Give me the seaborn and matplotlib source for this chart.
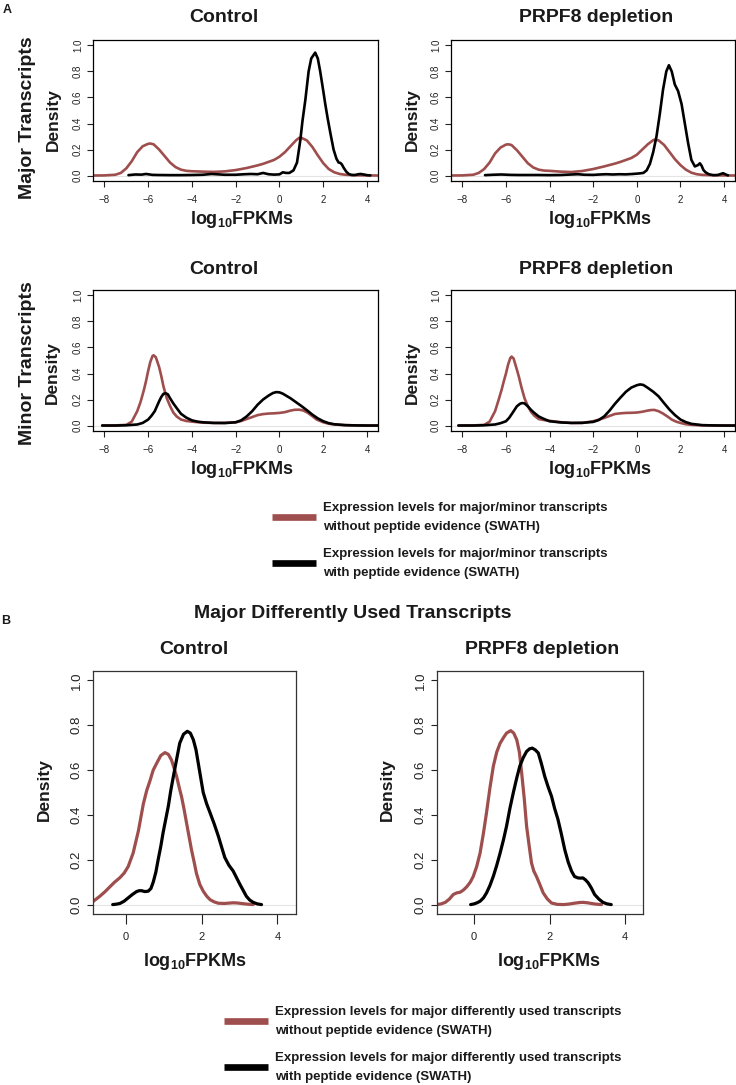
import numpy as np
import pandas as pd
import matplotlib
matplotlib.use("Agg")
import matplotlib.pyplot as plt
from matplotlib.lines import Line2D
import seaborn as sns

# ---------------- data ----------------
# Panel A, major transcripts, Control
a1_red_x = [-8.6,-8,-7.5,-7.25,-7,-6.75,-6.5,-6.25,-6.0,-5.9,-5.75,-5.5,-5.25,-5,-4.75,-4.5,-4.25,-4,-3.5,-3,-2.5,-2,-1.5,-1,-0.75,-0.5,-0.25,0,0.25,0.5,0.75,0.9,1.0,1.25,1.5,1.75,2,2.25,2.5,2.75,3,3.5,4,4.6]
a1_red_y = [0,0.001,0.006,0.02,0.055,0.11,0.18,0.225,0.244,0.246,0.24,0.2,0.15,0.1,0.065,0.045,0.036,0.033,0.03,0.028,0.032,0.042,0.058,0.078,0.09,0.105,0.12,0.145,0.18,0.225,0.27,0.29,0.29,0.27,0.22,0.155,0.095,0.05,0.025,0.012,0.006,0.002,0.001,0]
a1_blk_x = [-6.9,-6.6,-6.3,-6.1,-5.8,-5.5,-5,-4.5,-4,-3.5,-3.1,-2.8,-2.5,-2,-1.6,-1.3,-1.0,-0.75,-0.5,-0.25,0,0.15,0.3,0.45,0.64,0.8,0.95,1.05,1.18,1.33,1.45,1.63,1.75,1.86,2.0,2.09,2.2,2.32,2.47,2.6,2.7,2.78,2.85,2.93,3.05,3.16,3.3,3.45,3.6,3.7,3.85,4.0,4.15]
a1_blk_y = [0.003,0.008,0.007,0.012,0.005,0.004,0.003,0.003,0.004,0.006,0.012,0.009,0.006,0.006,0.01,0.012,0.01,0.02,0.01,0.007,0.009,0.025,0.02,0.02,0.04,0.1,0.27,0.42,0.58,0.8,0.9,0.945,0.9,0.8,0.65,0.55,0.44,0.33,0.2,0.13,0.1,0.097,0.085,0.06,0.03,0.012,0.004,0.004,0.01,0.012,0.008,0.003,0.001]

# Panel A, major transcripts, PRPF8 depletion
a2_red_x = [-8.6,-8,-7.5,-7.25,-7,-6.75,-6.5,-6.25,-6.0,-5.9,-5.75,-5.5,-5.25,-5,-4.75,-4.5,-4.25,-4,-3.5,-3,-2.5,-2,-1.5,-1,-0.75,-0.5,-0.25,0,0.25,0.5,0.75,0.85,1.0,1.25,1.5,1.75,2,2.25,2.5,2.75,3,3.5,4,4.6]
a2_red_y = [0,0.001,0.006,0.02,0.05,0.1,0.17,0.215,0.238,0.24,0.235,0.195,0.145,0.095,0.062,0.045,0.038,0.036,0.03,0.027,0.035,0.05,0.07,0.092,0.105,0.12,0.135,0.16,0.2,0.24,0.272,0.277,0.27,0.235,0.18,0.125,0.08,0.045,0.022,0.01,0.005,0.002,0.001,0]
a2_blk_x = [-6.96,-6.6,-6.2,-5.8,-5.4,-5,-4.5,-4,-3.5,-3,-2.7,-2.4,-2,-1.7,-1.4,-1.1,-0.8,-0.5,-0.2,0.1,0.3,0.45,0.6,0.75,0.9,1.05,1.2,1.35,1.47,1.6,1.74,1.89,2.05,2.2,2.35,2.5,2.66,2.8,2.89,2.97,3.05,3.15,3.3,3.5,3.7,3.85,3.95,4.05,4.18]
a2_blk_y = [0.003,0.006,0.008,0.005,0.004,0.004,0.004,0.003,0.004,0.008,0.01,0.006,0.005,0.008,0.01,0.008,0.01,0.009,0.012,0.016,0.02,0.04,0.09,0.18,0.3,0.47,0.66,0.8,0.848,0.8,0.7,0.65,0.55,0.4,0.25,0.12,0.07,0.08,0.094,0.075,0.043,0.025,0.01,0.003,0.004,0.012,0.018,0.01,0.001]

# Panel A, minor transcripts, Control
a3_red_x = [-8.1,-7.5,-7,-6.75,-6.5,-6.35,-6.2,-6.1,-6,-5.9,-5.8,-5.75,-5.65,-5.5,-5.4,-5.3,-5.15,-5,-4.85,-4.7,-4.5,-4.25,-4,-3.5,-3,-2.5,-2,-1.75,-1.5,-1.25,-1,-0.75,-0.5,-0.25,0,0.25,0.5,0.7,0.9,1.1,1.3,1.5,1.7,2,2.25,2.5,3,3.5,4,4.6]
a3_red_y = [0,0.001,0.005,0.03,0.11,0.18,0.27,0.34,0.42,0.49,0.535,0.54,0.525,0.45,0.38,0.3,0.21,0.15,0.1,0.07,0.046,0.035,0.03,0.022,0.02,0.021,0.025,0.035,0.05,0.065,0.08,0.088,0.092,0.094,0.097,0.103,0.115,0.121,0.122,0.115,0.097,0.072,0.046,0.025,0.014,0.008,0.003,0.001,0.0,0]
a3_blk_x = [-8.1,-7.5,-7,-6.5,-6.25,-6,-5.85,-5.7,-5.5,-5.4,-5.3,-5.2,-5.1,-5,-4.85,-4.7,-4.5,-4.25,-4,-3.75,-3.5,-3,-2.5,-2,-1.75,-1.5,-1.25,-1,-0.75,-0.5,-0.3,-0.15,0,0.15,0.3,0.5,0.7,0.85,1,1.25,1.5,1.75,2,2.25,2.5,3,3.5,4,4.6]
a3_blk_y = [0,0.0,0.002,0.008,0.02,0.046,0.075,0.11,0.186,0.22,0.244,0.248,0.24,0.21,0.17,0.135,0.09,0.06,0.04,0.03,0.025,0.02,0.019,0.025,0.04,0.07,0.11,0.16,0.2,0.23,0.25,0.257,0.255,0.245,0.23,0.21,0.186,0.168,0.15,0.118,0.084,0.055,0.033,0.018,0.01,0.003,0.001,0,0]

# Panel A, minor transcripts, PRPF8 depletion
a4_red_x = [-8.18,-7.5,-7,-6.75,-6.5,-6.35,-6.2,-6.1,-6,-5.9,-5.8,-5.74,-5.65,-5.5,-5.4,-5.3,-5.15,-5,-4.85,-4.7,-4.5,-4.25,-4,-3.5,-3,-2.5,-2,-1.75,-1.5,-1.25,-1,-0.75,-0.5,-0.25,0,0.25,0.5,0.65,0.8,1,1.2,1.4,1.6,1.8,2,2.25,2.5,3,3.5,4,4.6]
a4_red_y = [0,0.001,0.005,0.03,0.11,0.19,0.275,0.34,0.4,0.47,0.52,0.53,0.515,0.43,0.37,0.3,0.21,0.15,0.105,0.076,0.05,0.042,0.036,0.026,0.02,0.02,0.033,0.045,0.058,0.074,0.089,0.094,0.097,0.098,0.1,0.106,0.115,0.119,0.12,0.11,0.092,0.07,0.046,0.03,0.02,0.01,0.005,0.001,0,0,0]
a4_blk_x = [-8.18,-7.5,-7,-6.5,-6.25,-6,-5.85,-5.7,-5.5,-5.35,-5.25,-5.15,-5,-4.85,-4.7,-4.5,-4.25,-4,-3.5,-3,-2.5,-2,-1.75,-1.5,-1.25,-1,-0.75,-0.5,-0.25,0,0.15,0.3,0.5,0.75,1,1.25,1.5,1.75,2,2.25,2.5,3,3.5,4,4.6]
a4_blk_y = [0,0,0.002,0.008,0.018,0.033,0.06,0.097,0.148,0.168,0.173,0.17,0.148,0.12,0.097,0.07,0.05,0.033,0.024,0.02,0.021,0.028,0.042,0.07,0.115,0.168,0.215,0.26,0.292,0.31,0.316,0.312,0.29,0.26,0.224,0.172,0.122,0.08,0.046,0.026,0.013,0.003,0.001,0,0]

# Panel B, major differently used transcripts, Control
b1_red_x = [-0.95,-0.86,-0.69,-0.55,-0.42,-0.3,-0.16,-0.05,0.06,0.19,0.33,0.46,0.55,0.63,0.72,0.81,0.92,1.03,1.12,1.2,1.27,1.34,1.41,1.47,1.54,1.6,1.67,1.73,1.8,1.86,1.95,2.04,2.13,2.22,2.33,2.44,2.6,2.75,2.83,2.95,3.09,3.2,3.36]
b1_red_y = [0.005,0.015,0.037,0.058,0.08,0.1,0.12,0.14,0.17,0.23,0.33,0.45,0.51,0.55,0.6,0.63,0.665,0.678,0.67,0.646,0.61,0.57,0.52,0.48,0.42,0.364,0.3,0.245,0.19,0.14,0.09,0.06,0.038,0.022,0.012,0.006,0.005,0.007,0.008,0.007,0.004,0.002,0.0]
b1_blk_x = [-0.35,-0.25,-0.16,-0.05,0.06,0.17,0.28,0.35,0.41,0.5,0.59,0.66,0.72,0.79,0.85,0.92,0.98,1.05,1.12,1.18,1.25,1.34,1.42,1.52,1.62,1.7,1.78,1.85,1.91,1.98,2.04,2.13,2.22,2.33,2.44,2.52,2.61,2.72,2.83,2.92,3.01,3.1,3.18,3.27,3.36,3.47,3.58]
b1_blk_y = [0,0.002,0.005,0.015,0.03,0.045,0.058,0.062,0.062,0.058,0.06,0.072,0.1,0.145,0.2,0.26,0.32,0.38,0.44,0.505,0.57,0.65,0.72,0.76,0.773,0.765,0.735,0.69,0.63,0.56,0.5,0.45,0.41,0.36,0.305,0.26,0.21,0.175,0.15,0.12,0.09,0.062,0.037,0.02,0.01,0.003,0]

# Panel B, major differently used transcripts, PRPF8 depletion
b2_red_x = [-0.98,-0.87,-0.76,-0.65,-0.55,-0.46,-0.37,-0.28,-0.19,-0.1,-0.02,0.07,0.16,0.25,0.33,0.42,0.51,0.6,0.69,0.78,0.86,0.97,1.05,1.13,1.2,1.26,1.33,1.39,1.46,1.52,1.58,1.65,1.74,1.83,1.94,2.05,2.2,2.36,2.5,2.65,2.78,2.88,3.0,3.1,3.22,3.37]
b2_red_y = [0,0.003,0.01,0.025,0.045,0.052,0.055,0.065,0.08,0.1,0.126,0.17,0.23,0.32,0.41,0.52,0.617,0.68,0.72,0.745,0.765,0.776,0.765,0.735,0.68,0.587,0.47,0.35,0.26,0.186,0.15,0.126,0.09,0.052,0.025,0.007,0.001,0,0.002,0.006,0.009,0.01,0.008,0.005,0.002,0]
b2_blk_x = [-0.09,0.0,0.08,0.16,0.25,0.33,0.42,0.51,0.6,0.69,0.78,0.86,0.95,1.04,1.13,1.21,1.3,1.39,1.47,1.54,1.62,1.7,1.78,1.87,1.96,2.05,2.13,2.22,2.31,2.4,2.49,2.58,2.66,2.75,2.82,2.88,2.95,3.02,3.1,3.19,3.3,3.41,3.52,3.63]
b2_blk_y = [0,0.003,0.008,0.015,0.03,0.052,0.085,0.126,0.175,0.23,0.29,0.35,0.43,0.5,0.565,0.617,0.655,0.683,0.695,0.698,0.69,0.676,0.63,0.572,0.525,0.483,0.43,0.38,0.315,0.245,0.19,0.149,0.125,0.119,0.118,0.119,0.11,0.097,0.075,0.045,0.025,0.01,0.003,0]

a_xticks = [-8, -6, -4, -2, 0, 2, 4]
b_xticks = [0, 2, 4]
yticks = [0.0, 0.2, 0.4, 0.6, 0.8, 1.0]
titles = ["Control", "PRPF8 depletion"]
row_labels = ["Major Transcripts", "Minor Transcripts"]
section_title_b = "Major Differently Used Transcripts"
legend_a = ["Expression levels for major/minor transcripts\nwithout peptide evidence (SWATH)",
            "Expression levels for major/minor transcripts\nwith peptide evidence (SWATH)"]
legend_b = ["Expression levels for major differently used transcripts\nwithout peptide evidence (SWATH)",
            "Expression levels for major differently used transcripts\nwith peptide evidence (SWATH)"]

# ---------------- style ----------------
sns.set_style("white")
plt.rcParams['font.family'] = ['Liberation Sans', 'DejaVu Sans']
plt.rcParams['mathtext.fontset'] = 'custom'
plt.rcParams['mathtext.rm'] = 'Liberation Sans'
plt.rcParams['mathtext.bf'] = 'Liberation Sans:bold'
plt.rcParams['axes.unicode_minus'] = True

RED = '#9F4E4E'
BLK = '#000000'
palette = {"nopep": RED, "pep": BLK}

W, H = 736, 1085
fig = plt.figure(figsize=(W / 100, H / 100), dpi=100)


def px_axes(left, top, right, bottom):
    return fig.add_axes([left / W, 1 - bottom / H, (right - left) / W, (bottom - top) / H])


def make_df(rx, ry, bx, by):
    return pd.DataFrame({
        "x": list(rx) + list(bx),
        "y": list(ry) + list(by),
        "grp": ["nopep"] * len(rx) + ["pep"] * len(bx),
    })


def style_axes(ax, xticks, xlim, tick_fs_x, tick_fs_y, xtick_len, ytick_len, spine_col):
    ax.set_xlim(*xlim)
    ax.set_ylim(-0.042, 1.042)
    ax.set_xticks(xticks)
    ax.set_xticklabels([f"{t:d}".replace('-', '\u2212') for t in xticks])
    ax.set_yticks(yticks)
    ax.set_yticklabels([f"{t:.1f}" for t in yticks], rotation=90, va='center')
    ax.tick_params(axis='x', direction='out', length=xtick_len, width=0.8, labelsize=tick_fs_x,
                   pad=6, colors='#222222', bottom=True)
    ax.tick_params(axis='y', direction='out', length=ytick_len, width=0.8, labelsize=tick_fs_y,
                   pad=3, colors='#222222', left=True)
    for s in ax.spines.values():
        s.set_visible(True)
        s.set_color(spine_col)
        s.set_linewidth(0.9)
    ax.set_xlabel("")
    ax.set_ylabel("")
    ax.axhline(0, color='#e4e4e4', lw=0.8, zorder=0)


panels_a = [
    ((93, 40, 378, 181), (a1_red_x, a1_red_y, a1_blk_x, a1_blk_y)),
    ((451, 40, 735, 181), (a2_red_x, a2_red_y, a2_blk_x, a2_blk_y)),
    ((93, 290, 378, 431), (a3_red_x, a3_red_y, a3_blk_x, a3_blk_y)),
    ((451, 290, 735, 431), (a4_red_x, a4_red_y, a4_blk_x, a4_blk_y)),
]
for box, dat in panels_a:
    ax = px_axes(*box)
    df = make_df(*dat)
    sns.lineplot(data=df, x="x", y="y", hue="grp", palette=palette, sort=False,
                 estimator=None, legend=False, linewidth=1.9, ax=ax)
    style_axes(ax, a_xticks, (-8.52, 4.5), 7, 7, 4.3, 4.3, 'black')

panels_b = [
    ((93, 671, 296, 914), (b1_red_x, b1_red_y, b1_blk_x, b1_blk_y), (-0.87, 4.49)),
    ((437, 671, 643, 914), (b2_red_x, b2_red_y, b2_blk_x, b2_blk_y), (-0.98, 4.47)),
]
for box, dat, xl in panels_b:
    ax = px_axes(*box)
    df = make_df(*dat)
    sns.lineplot(data=df, x="x", y="y", hue="grp", palette=palette, sort=False,
                 estimator=None, legend=False, linewidth=2.3, ax=ax)
    style_axes(ax, b_xticks, xl, 8, 9.5, 7, 4.3, '#333333')

# ---------------- texts ----------------
bold = dict(fontweight='bold', color='#1a1a1a')
xlab = r'$\mathbf{log_{10}FPKMs}$'

def ft(x, y, s, **kw):
    fig.text(x / W, 1 - y / H, s, ha='center', va='center', **kw)

# titles
for (x, y, s) in [(224, 18, titles[0]), (596, 18, titles[1]),
                  (224, 269, titles[0]), (596, 269, titles[1]),
                  (194, 650, titles[0]), (542, 650, titles[1])]:
    ft(x, y, s, fontsize=14, **bold)
ft(353, 614, section_title_b, fontsize=14, **bold)

# x labels
for (x, y) in [(242, 220), (600, 220), (242, 469), (600, 469), (195, 961), (549, 961)]:
    ft(x, y, xlab, fontsize=13, color='#1a1a1a')

# y labels
for (x, y) in [(53, 120), (412, 120), (52, 373), (412, 373), (44, 790), (387, 790)]:
    ft(x, y, "Density", fontsize=12.5, rotation=90, **bold)

ft(28, 118, row_labels[0], fontsize=14, rotation=90, **bold)
ft(27, 363, row_labels[1], fontsize=14, rotation=90, **bold)

ft(7, 10, "A", fontsize=9, **bold)
ft(6, 621, "B", fontsize=9, **bold)

# ---------------- legends ----------------
handles = [Line2D([], [], color=RED, lw=4.8, solid_capstyle='butt'),
           Line2D([], [], color=BLK, lw=4.8, solid_capstyle='butt')]

def add_legend(labels, x_left, y_top):
    leg = fig.legend(handles, labels, loc='upper left',
                     bbox_to_anchor=(x_left / W, 1 - y_top / H),
                     frameon=False, borderpad=0, borderaxespad=0,
                     handlelength=3.3, handletextpad=0.6, labelspacing=1.15,
                     prop={'weight': 'bold', 'size': 9.5})
    for t in leg.get_texts():
        t.set_linespacing(1.75)
        t.set_color('#1a1a1a')
    return leg

add_legend(legend_a, 272, 502)
add_legend(legend_b, 224, 1006)

fig.savefig("out.png", dpi=100)
